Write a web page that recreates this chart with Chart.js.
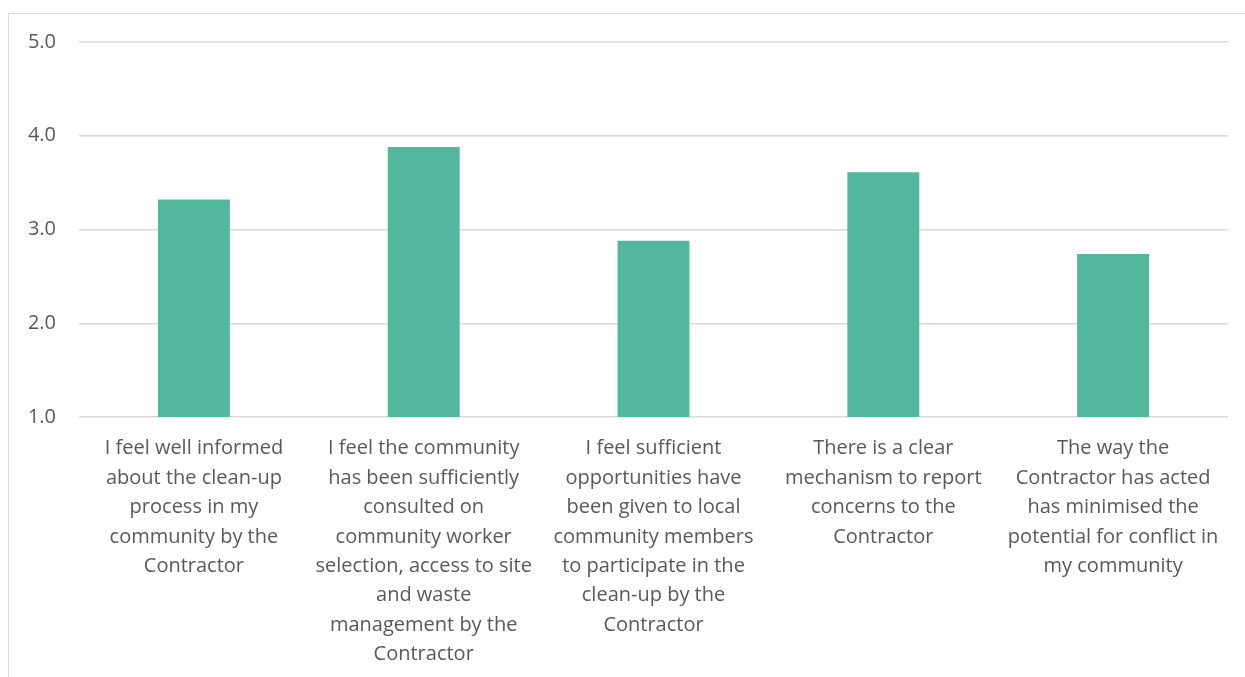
<!DOCTYPE html>
<html>
<head>
<meta charset="utf-8">
<script src="https://cdn.jsdelivr.net/npm/chart.js@4/dist/chart.umd.min.js"></script>
<style>
  html, body { margin: 0; padding: 0; background: #ffffff; overflow: hidden; }
  #frame { position: absolute; left: 8px; top: 13px; width: 1260px; height: 700px;
           border: 1.5px solid #d9d9d9; box-sizing: border-box; }
  #wrap { position: absolute; left: 0; top: 0; width: 1245px; height: 677px; }
</style>
</head>
<body>
<div id="frame"></div>
<div id="wrap"><canvas id="c" width="1245" height="677"></canvas></div>
<script>
// Survey statements (each entry is one wrapped label, one line per string)
const categories = [
  ["I feel well informed", "about the clean-up", "process in my", "community by the", "Contractor"],
  ["I feel the community", "has been sufficiently", "consulted on", "community worker", "selection, access to site", "and waste", "management by the", "Contractor"],
  ["I feel sufficient", "opportunities have", "been given to local", "community members", "to participate in the", "clean-up by the", "Contractor"],
  ["There is a clear", "mechanism to report", "concerns to the", "Contractor"],
  ["The way the", "Contractor has acted", "has minimised the", "potential for conflict in", "my community"]
];
// Mean agreement score per statement
const meanScores = [3.32, 3.88, 2.88, 3.61, 2.74];
// Value axis ticks
const yTicks = [1, 2, 3, 4, 5];

const textColor = '#595959';
const fontFamily = '"Open Sans", "Liberation Sans", sans-serif';

new Chart(document.getElementById('c'), {
  type: 'bar',
  data: {
    labels: categories,
    datasets: [{
      data: meanScores,
      backgroundColor: '#53b79d',
      borderWidth: 0,
      barPercentage: 0.313,
      categoryPercentage: 1.0
    }]
  },
  options: {
    responsive: false,
    animation: false,
    devicePixelRatio: 1,
    layout: { padding: { top: 42, right: 17, left: 0, bottom: 0 } },
    plugins: { legend: { display: false }, tooltip: { enabled: false } },
    scales: {
      x: {
        grid: { display: false, drawTicks: false },
        border: { display: false },
        ticks: {
          color: textColor,
          font: { family: fontFamily, size: 20, lineHeight: 1.47 },
          padding: 17,
          maxRotation: 0,
          autoSkip: false
        },
        afterFit: (s) => { s.height = 260; }
      },
      y: {
        min: 1,
        max: 5,
        afterBuildTicks: (s) => { s.ticks = yTicks.map(v => ({ value: v })); },
        grid: { color: '#d9d9d9', lineWidth: 1.5, drawTicks: false },
        border: { display: false },
        ticks: {
          color: textColor,
          font: { family: fontFamily, size: 20 },
          padding: 23,
          callback: (v) => Number(v).toFixed(1)
        },
        afterFit: (s) => { s.width = 79; }
      }
    }
  }
});
</script>
</body>
</html>
